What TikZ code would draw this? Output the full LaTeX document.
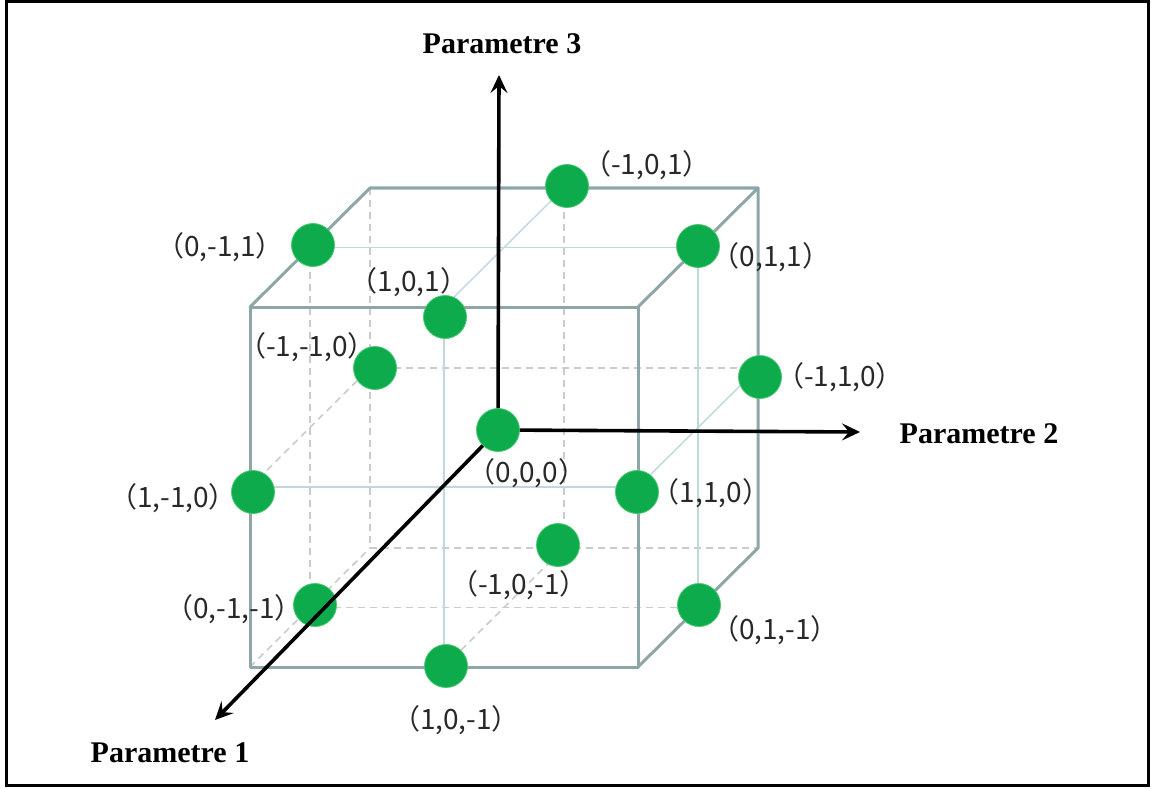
\documentclass[tikz,border=0pt]{standalone}
\usepackage{fontspec}
\setmainfont{Liberation Serif}
\newfontfamily\cjk{Noto Sans CJK SC}
\usetikzlibrary{arrows.meta}
\definecolor{dotgreen}{RGB}{14,171,76}
\definecolor{dotrim}{RGB}{70,200,110}
\definecolor{edgecol}{RGB}{143,166,166}
\definecolor{innercol}{RGB}{192,216,220}
\definecolor{dashcol}{RGB}{200,204,204}
\definecolor{labcol}{RGB}{40,40,40}
\tikzset{
 cubeedge/.style={draw=edgecol,line width=3pt,line join=round,line cap=round},
 innerline/.style={draw=innercol,line width=1.4pt},
 hidden/.style={draw=dashcol,line width=1.6pt,dash pattern=on 7pt off 5pt},
 pt/.style={circle,fill=dotgreen,draw=dotrim,line width=0.8pt,minimum size=43pt,inner sep=0pt},
 coordlab/.style={font=\cjk\fontsize{28}{28}\selectfont,text=labcol,inner sep=0pt},
 axislab/.style={font=\bfseries\fontsize{30}{30}\selectfont,inner sep=0pt,anchor=base},
 axisarrow/.style={draw=black,line width=3.6pt,-{Stealth[length=18pt,width=17pt,inset=7pt]}}
}
\begin{document}
\begin{tikzpicture}[x=1pt,y=-1pt]
\useasboundingbox (0,0) rectangle (1157,789);
% frame
\draw[line width=3pt] (6,1.5) rectangle (1148,785);
% cube corners
\coordinate (FTL) at (250,307);
\coordinate (FTR) at (638,307);
\coordinate (FBR) at (638,667);
\coordinate (FBL) at (250,667);
\coordinate (BTL) at (370,188);
\coordinate (BTR) at (758,188);
\coordinate (BBR) at (758,548);
\coordinate (BBL) at (370,548);
% edge midpoints
\coordinate (mFT) at (444,307);
\coordinate (mFB) at (444,667);
\coordinate (mFL) at (250,487);
\coordinate (mFR) at (638,487);
\coordinate (mBT) at (564,188);
\coordinate (mBB) at (564,548);
\coordinate (mBL) at (370,368);
\coordinate (mBR) at (758,368);
\coordinate (mTL) at (310,247.5);
\coordinate (mTR) at (698,247.5);
\coordinate (mDL) at (310,607.5);
\coordinate (mDR) at (698,607.5);
% hidden lines
\draw[hidden] (BTL) -- (BBL) -- (BBR);
\draw[hidden] (FBL) -- (BBL);
\draw[hidden] (mBT) -- (mBB);
\draw[hidden] (mBL) -- (mBR);
\draw[hidden] (mTL) -- (mDL);
\draw[hidden] (mFL) -- (mBL);
\draw[hidden] (mDL) -- (mDR);
\draw[hidden] (mFB) -- (mBB);
% visible inner lines
\draw[innerline] (mFT) -- (mFB);
\draw[innerline] (mFL) -- (mFR);
\draw[innerline] (mTL) -- (mTR);
\draw[innerline] (mFT) -- (mBT);
\draw[innerline] (mTR) -- (mDR);
\draw[innerline] (mFR) -- (mBR);
% visible cube edges
\draw[cubeedge] (FTL) -- (FTR) -- (FBR) -- (FBL) -- cycle;
\draw[cubeedge] (FTL) -- (BTL) -- (BTR) -- (FTR);
\draw[cubeedge] (BTR) -- (BBR) -- (FBR);
% points
\node[pt] (d101) at (445,317) {};
\node[pt] (dm101) at (567,186) {};
\node[pt] (d011) at (698,246) {};
\node[pt] (d0m11) at (313,245) {};
\node[pt] (dm1m10) at (375,368) {};
\node[pt] (dm110) at (760,377) {};
\node[pt] (d000) at (498,430) {};
\node[pt] (d1m10) at (253,492) {};
\node[pt] (d110) at (637,492) {};
\node[pt] (dm10m1) at (558,545) {};
\node[pt] (d0m1m1) at (315,605) {};
\node[pt] (d01m1) at (699,605) {};
\node[pt] (d10m1) at (446,666) {};
% coordinate labels
\node[coordlab] (l0m11) at (220,247) {（0,-1,1）};
\node[coordlab] (lm101) at (647,165) {（-1,0,1）};
\node[coordlab] (l011) at (771,257) {（0,1,1）};
\node[coordlab] (l101) at (409,282) {（1,0,1）};
\node[coordlab] (lm1m10) at (307,347) {（-1,-1,0）};
\node[coordlab] (lm110) at (840,377) {（-1,1,0）};
\node[coordlab] (l000) at (527,473) {（0,0,0）};
\node[coordlab] (l1m10) at (173,498) {（1,-1,0）};
\node[coordlab] (l110) at (711,493) {（1,1,0）};
\node[coordlab] (lm10m1) at (519,585) {（-1,0,-1）};
\node[coordlab] (l0m1m1) at (234,609) {（0,-1,-1）};
\node[coordlab] (l01m1) at (775,630) {（0,1,-1）};
\node[coordlab] (l10m1) at (456,720) {（1,0,-1）};
% axes
\coordinate (t3) at (499,75);
\coordinate (t2) at (860,432);
\coordinate (t1) at (215,720);
\draw[axisarrow] (d000) -- (t3);
\draw[axisarrow] (d000) -- (t2);
\draw[axisarrow] (d000) -- (t1);
% axis labels
\node[axislab] (p3) at (502,54) {Parametre 3};
\node[axislab] (p2) at (979,443) {Parametre 2};
\node[axislab] (p1) at (170,762) {Parametre 1};
\end{tikzpicture}
\end{document}
